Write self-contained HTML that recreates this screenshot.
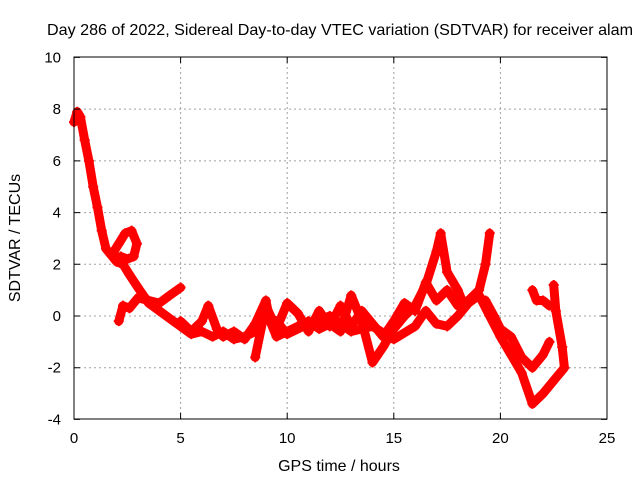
<!DOCTYPE html>
<html><head><meta charset="utf-8"><style>
body{margin:0;background:#fff}
svg{display:block;font-family:"Liberation Sans",sans-serif}
</style></head><body>
<svg id="c" width="640" height="480">
<text x="340" y="35" text-anchor="middle" font-size="16" textLength="586" lengthAdjust="spacingAndGlyphs">Day 286 of 2022, Sidereal Day-to-day VTEC variation (SDTVAR) for receiver alam</text>
<text x="339" y="471" text-anchor="middle" font-size="16">GPS time / hours</text>
<text transform="translate(20,238) rotate(-90)" text-anchor="middle" font-size="16">SDTVAR / TECUs</text>
<g id="grid"></g><g id="marks"></g><g id="axes"></g>
</svg>
<script>
const xTicks=[0,5,10,15,20,25];
const yTicks=[-4,-2,0,2,4,6,8,10];
const tA=[0,0.15,0.3,0.5,0.7,0.9,1.1,1.3,1.5,1.8,2.0,2.3,2.6,3.0,3.5,4.0,4.5,5.0,5.5,6.0,6.5,7.0,7.5,8.0,8.5];
const vA=[7.5,7.9,7.7,6.8,6.0,5.0,4.2,3.3,2.6,2.3,2.1,2.0,1.6,1.1,0.5,0.2,-0.1,-0.4,-0.7,-0.6,-0.8,-0.6,-0.9,-0.8,-0.6];
const tL=[1.8,2.1,2.4,2.7,2.95,2.8,2.5,2.2,1.9];
const vL=[2.4,2.8,3.2,3.3,2.8,2.3,2.2,2.3,2.2];
const tB=[2.1,2.3,2.6,3.0,3.5,4.0,4.5,5.0];
const vB=[-0.2,0.4,0.3,0.7,0.6,0.5,0.8,1.1];
const tC=[5.0,5.5,6.0,6.3,6.7,7.0,7.5,8.0,8.5,9.0,9.2,9.5,10,10.5,11,11.5,12,12.5,13,13.5,14,14.5,15,15.5,16,16.5,17,17.2,17.5,18,18.3];
const vC=[-0.2,-0.6,-0.2,0.4,-0.5,-0.8,-0.6,-0.9,-0.3,0.6,-0.2,-0.8,-0.6,-0.4,-0.2,-0.5,-0.3,-0.6,0.8,-0.2,-1.8,-1.2,-0.5,0.0,0.4,1.2,2.5,3.2,1.7,1.0,0.4];
const tD=[8.5,9.0,9.5,10,10.5,11,11.5,12,12.5,13,13.5,14,14.5,15,15.5,16,16.5,17,17.5,18,18.5,19,19.3,19.5];
const vD=[-1.6,0.4,-0.5,0.5,0.1,-0.6,0.2,-0.4,0.4,-0.4,0.2,-0.3,-0.8,-0.2,0.5,0.2,1.3,0.6,1.0,0.4,0.6,1.0,2.0,3.2];
const tE=[9.5,10,11,12,13,14,15,16,16.5,17,17.5,18,18.5,19,19.5,20,20.5,21,21.5,22,22.5,23,22.9,22.6,22.5];
const vE=[-0.2,-0.7,-0.3,0.0,-0.6,-0.4,-0.9,-0.4,0.2,-0.3,-0.4,0.0,0.5,0.8,0.0,-0.8,-1.5,-2.2,-3.4,-3.0,-2.5,-2.0,-1.2,0.2,1.2];
const tF=[19.3,19.7,20.0,20.5,21.0,21.5,22.0,22.3];
const vF=[0.6,0.0,-0.5,-0.8,-1.6,-2.0,-1.5,-1.0];
const tG=[21.5,21.7,22.0,22.3];
const vG=[1.0,0.6,0.6,0.4];
const X=t=>74+t*(533/25), Y=v=>316-v*(362/14);
const NS="http://www.w3.org/2000/svg";
function mk(tag,attrs,parent){const e=document.createElementNS(NS,tag);for(const k in attrs)e.setAttribute(k,attrs[k]);parent.appendChild(e);return e;}
const grid=document.getElementById('grid'),marks=document.getElementById('marks'),axes=document.getElementById('axes');
xTicks.forEach(t=>{
 if(t>0&&t<25){const g=mk('line',{x1:X(t),x2:X(t),y1:57,y2:419,stroke:'#a0a0a0','stroke-dasharray':'2,3'},grid);
 
 }
 const tk=mk('path',{d:`M${X(t)},419v-6M${X(t)},57v6`,stroke:'#000'},axes);
 
 
 const l=mk('text',{x:X(t),y:443,'text-anchor':'middle','font-size':15},axes);l.textContent=t;
 
 
});
yTicks.forEach(v=>{
 if(v>-4&&v<10){const g=mk('line',{x1:74,x2:607,y1:Y(v),y2:Y(v),stroke:'#a0a0a0','stroke-dasharray':'2,3'},grid);
 
 }
 const tk=mk('path',{d:`M74,${Y(v)}h6M607,${Y(v)}h-6`,stroke:'#000'},axes);
 
 
 const l=mk('text',{x:61,y:Y(v)+5,'text-anchor':'end','font-size':15},axes);l.textContent=v;
 
 
});
const b=mk('rect',{x:74,y:57,width:533,height:362,fill:'none',stroke:'#000'},axes);


[[tA,vA],[tL,vL],[tB,vB],[tC,vC],[tD,vD],[tE,vE],[tF,vF],[tG,vG]].forEach(([ts,vs],i)=>{
 const d=ts.map((t,j)=>(j?'L':'M')+X(t).toFixed(1)+','+Y(vs[j]).toFixed(1)).join('');
 const p=mk('path',{d:d,fill:'none',stroke:'#f00','stroke-width':9,'stroke-linejoin':'round','stroke-linecap':'round'},marks);
 
 
 ts.forEach((t,j)=>{const m=mk('path',{d:`M${X(t)-5},${Y(vs[j])}h10M${X(t)},${Y(vs[j])-5}v10`,stroke:'#f00','stroke-width':2},marks);
  
  });
});
</script>
</body></html>
